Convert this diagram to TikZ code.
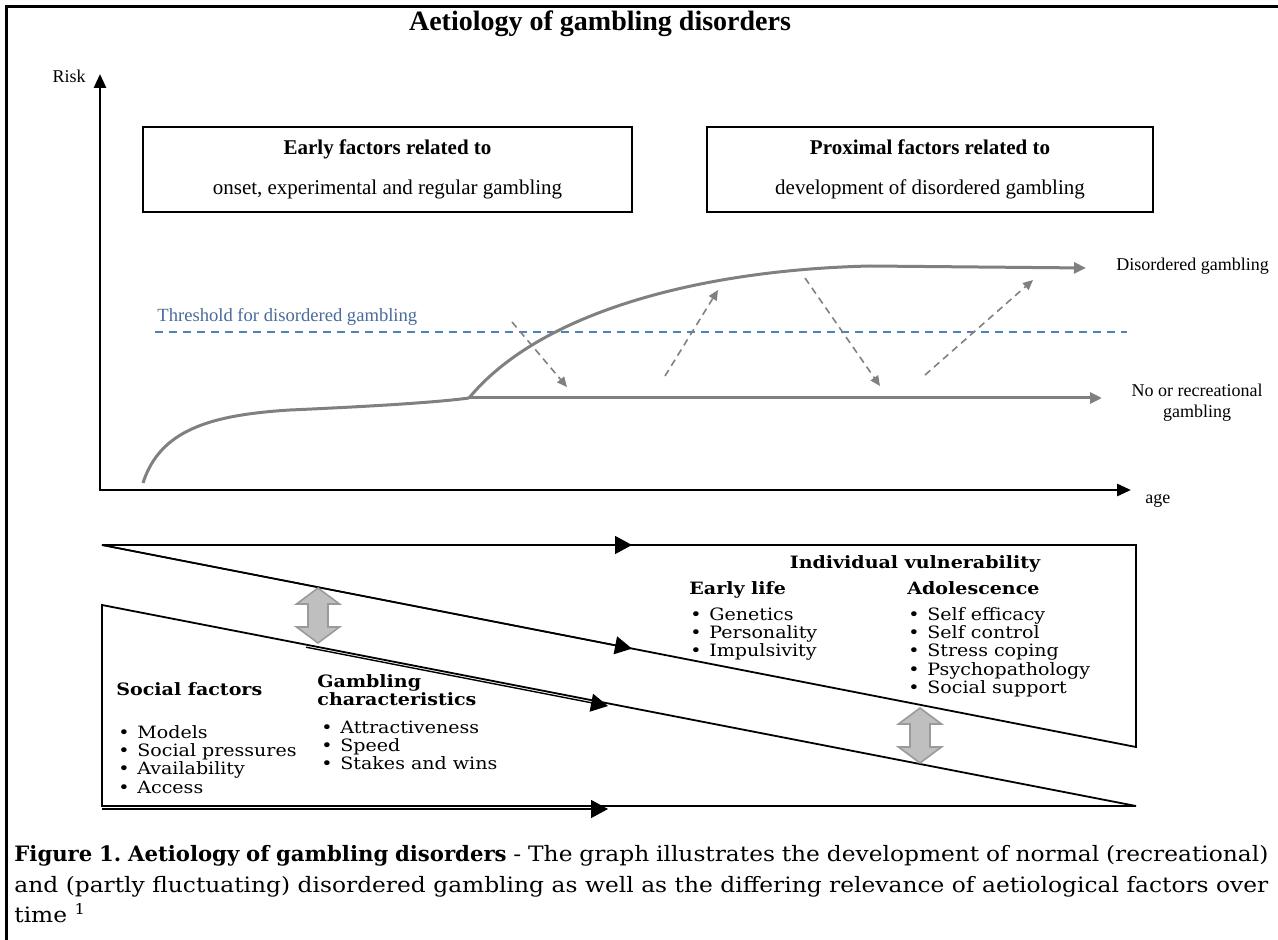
\documentclass[tikz,border=0pt]{standalone}
\usepackage{fontspec}
\setmainfont{Liberation Serif}
\newfontfamily\lowfont[FakeStretch=1.12]{DejaVu Serif}
\newfontfamily\capwide[FakeStretch=1.1]{DejaVu Serif}
\newfontfamily\capplain{DejaVu Serif}
\usetikzlibrary{arrows.meta}
\definecolor{curvegray}{HTML}{808080}
\definecolor{threshblue}{HTML}{4F81BD}
\definecolor{threshtext}{HTML}{4A6A9C}
\definecolor{dblfill}{HTML}{BFBFBF}
\definecolor{dbldraw}{HTML}{9A9A9A}
\newcommand{\bulitem}[1]{\makebox[9.5pt][l]{\textbullet}#1}
\tikzset{
  frameline/.style={line width=1.5pt, line cap=rect},
  axis/.style={line width=1.4pt, line cap=rect, -{Triangle[length=7pt,width=6pt]}},
  factorbox/.style={draw, line width=1pt, inner sep=0pt, align=center, font=\fontsize{10.5}{20}\selectfont},
  sidelabel/.style={font=\fontsize{9}{10.5}\selectfont, inner sep=0pt},
  growth/.style={curvegray, line width=1.5pt},
  growtharrow/.style={growth, -{Triangle[length=6pt,width=5.5pt]}},
  dasharrow/.style={curvegray, line width=0.8pt, dash pattern=on 3.5pt off 2.5pt, -{Triangle[length=5pt,width=4.5pt]}},
  threshline/.style={threshblue, line width=0.8pt, dash pattern=on 4pt off 3pt},
  lowline/.style={line width=0.9pt},
  lowarrow/.style={line width=0.7pt, -{Triangle[length=8.5pt,width=9pt]}},
  lowtext/.style={font=\lowfont\fontsize{8.5}{9.2}\selectfont, inner sep=0pt, anchor=base west},
  lowhead/.style={font=\lowfont\bfseries\fontsize{8.5}{9.2}\selectfont, inner sep=0pt, anchor=base west},
  biarrow/.pic={\draw[fill=dblfill, draw=dbldraw, line width=0.8pt]
     (0,-27.5) -- (21.5,-11.5) -- (10,-11.5) -- (10,11.5) -- (21.5,11.5) -- (0,27.5)
     -- (-21.5,11.5) -- (-10,11.5) -- (-10,-11.5) -- (-21.5,-11.5) -- cycle;}
}
\begin{document}
\begin{tikzpicture}[x=0.5pt,y=-0.5pt]
\useasboundingbox (0,0) rectangle (1278,940);
% frame
\coordinate (frTR) at (1278,7);
\coordinate (frTL) at (6,7);
\coordinate (frBL) at (6,940);
\draw[frameline] (frTR) -- (frTL) -- (frBL);
% title
\node[font=\fontsize{14}{16}\selectfont\bfseries, anchor=base, inner sep=0pt] (title) at (600,31) {Aetiology of gambling disorders};
% axes
\coordinate (O) at (100,490);
\coordinate (ytip) at (100,74);
\coordinate (xtip) at (1131,490);
\draw[axis] (O) -- (ytip);
\draw[axis] (O) -- (xtip);
\node[sidelabel, anchor=base east] (risk) at (86,83) {Risk};
\node[sidelabel, anchor=base west] (age) at (1145,503) {age};
% factor boxes
\node[factorbox, minimum width=244.5pt, minimum height=42.5pt] (early) at (387.5,169.5)
  {\textbf{Early factors related to}\\onset, experimental and regular gambling};
\node[factorbox, minimum width=223pt, minimum height=42.5pt] (proximal) at (930,169.5)
  {\textbf{Proximal factors related to}\\development of disordered gambling};
% threshold
\coordinate (th0) at (155,332);
\coordinate (th1) at (1127,332);
\draw[threshline] (th0) -- (th1);
\node[sidelabel, text=threshtext, anchor=base west, font=\fontsize{9.3}{11}\selectfont] (thlabel) at (157,322) {Threshold for disordered gambling};
% growth curves
\coordinate (c0) at (143,483);
\coordinate (c1) at (290,410);
\coordinate (J) at (469,398);
\coordinate (uEnd) at (870,266);
\coordinate (dgTip) at (1086,268);
\coordinate (recTip) at (1102,398);
\draw[growth] (c0) .. controls (160,430) and (210,415) .. (c1) .. controls (380,406) and (440,402) .. (J);
\draw[growtharrow] (J) -- (recTip);
\draw[growtharrow] (J) .. controls (540,312) and (700,270) .. (uEnd) -- (dgTip);
\node[sidelabel, anchor=base west] (dglabel) at (1116,271) {Disordered gambling};
\node[sidelabel, align=center, anchor=north, font=\fontsize{9}{10.5}\selectfont] (reclabel) at (1197,384) {No or recreational\\gambling};
% fluctuation arrows
\coordinate (d1s) at (512,322); \coordinate (d1e) at (567,387);
\coordinate (d2s) at (665,376); \coordinate (d2e) at (718,290);
\coordinate (d3s) at (805,278); \coordinate (d3e) at (880,386);
\coordinate (d4s) at (925,375); \coordinate (d4e) at (1033,280);
\draw[dasharrow] (d1s) -- (d1e);
\draw[dasharrow] (d2s) -- (d2e);
\draw[dasharrow] (d3s) -- (d3e);
\draw[dasharrow] (d4s) -- (d4e);
% lower wedges
\coordinate (U1) at (102,545);
\coordinate (U2) at (1136,545);
\coordinate (U3) at (1136,747);
\coordinate (Um) at (632,545);
\coordinate (Udm) at (632,648.6);
\coordinate (L1) at (102,605);
\coordinate (L2) at (1136,806);
\coordinate (L3) at (102,806);
\coordinate (Lds) at (306,647.2);
\coordinate (Ldm) at (608,706);
\coordinate (Lbs) at (102,809);
\coordinate (Lbm) at (608,809);
\draw[lowline] (U1) -- (U2) -- (U3) -- cycle;
\draw[lowarrow] (U1) -- (Um);
\draw[lowarrow] (U1) -- (Udm);
\draw[lowline] (L1) -- (L2) -- (L3) -- cycle;
\draw[lowarrow] (Lds) -- (Ldm);
\draw[lowarrow] (Lbs) -- (Lbm);
\pic at (318,615.5) {biarrow};
\pic at (920,735.5) {biarrow};
% individual vulnerability
\node[lowhead, anchor=base] (indiv) at (915,568) {Individual vulnerability};
\node[lowhead] (earlylife) at (689,594) {Early life};
\node[lowhead] (adol) at (907,594) {Adolescence};
\foreach \t [count=\i] in {Genetics, Personality, Impulsivity}
  \node[lowtext] (el\i) at (690,{620+18.4*(\i-1)}) {\bulitem{\t}};
\foreach \t [count=\i] in {Self efficacy, Self control, Stress coping, Psychopathology, Social support}
  \node[lowtext] (ad\i) at (908,{620+18.4*(\i-1)}) {\bulitem{\t}};
% social / gambling
\node[lowhead] (social) at (116,695) {Social factors};
\node[lowhead, align=left, anchor=north west] (gchar) at (317,674) {Gambling\\characteristics};
\foreach \t [count=\i] in {Models, Social pressures, Availability, Access}
  \node[lowtext] (sf\i) at (118,{738+18.4*(\i-1)}) {\bulitem{\t}};
\foreach \t [count=\i] in {Attractiveness, Speed, Stakes and wins}
  \node[lowtext] (gc\i) at (321,{733+18.4*(\i-1)}) {\bulitem{\t}};
% caption
\node[anchor=north west, inner sep=0pt, text width=627pt, align=justify,
      font=\capwide\fontsize{10.6}{15.25}\selectfont\frenchspacing] (caption) at (14,845)
 {{\capplain\bfseries Figure 1. Aetiology of gambling disorders} - The graph illustrates the development of normal (recreational)\linebreak
  and (partly fluctuating) disordered gambling as well as the differing relevance of aetiological factors over\linebreak
  time~\textsuperscript{1}};
\end{tikzpicture}
\end{document}
